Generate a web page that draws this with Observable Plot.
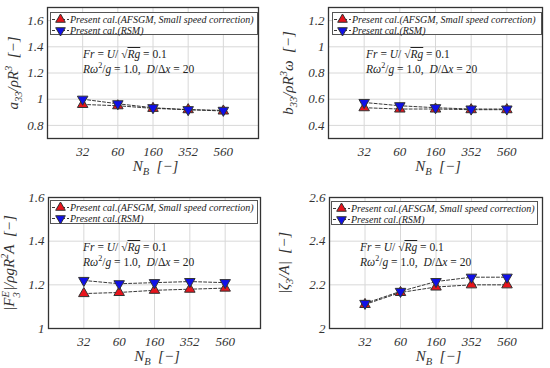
<!DOCTYPE html>
<html><head><meta charset="utf-8">
<script src="https://cdn.jsdelivr.net/npm/d3@7"></script>
<script src="https://cdn.jsdelivr.net/npm/@observablehq/plot@0.6"></script>
<style>
body{margin:0;background:#fff;}
#wrap{position:relative;width:550px;height:368px;overflow:hidden;font-family:"Liberation Serif","DejaVu Serif",serif;}
.pl{position:absolute;}
.leg{position:absolute;background:#fff;border:1.3px solid #555;box-sizing:border-box;font-style:italic;font-size:10px;color:#222;padding-top:1px;}
.leg .row{display:flex;align-items:center;height:11px;white-space:nowrap;}
.leg svg{margin:0 1px 0 1px;flex:none;}
.ann{position:absolute;font-size:11.5px;color:#222;white-space:nowrap;line-height:15px;}
.ann i{font-style:italic;}
.ov{text-decoration:overline;}
.ylab{position:absolute;font-size:15px;font-style:italic;color:#333;white-space:nowrap;transform:translate(-50%,-50%) rotate(-90deg);}
.xlab{position:absolute;font-size:15px;font-style:italic;color:#333;white-space:nowrap;transform:translate(-50%,-50%);}
sub,sup{font-size:70%;line-height:0;}
.stk{display:inline-flex;flex-direction:column;vertical-align:middle;font-size:70%;line-height:1;}
</style>
</head><body>
<div id="wrap"></div>
<script>
const NB = ["32", "60", "160", "352", "560"];
const idx = [1, 2, 3, 4, 5];

// panel (a): a33/rho R^3
const a33AFSGM = [0.96, 0.95, 0.93, 0.92, 0.91];
const a33RSM   = [1.00, 0.965, 0.935, 0.92, 0.915];
// panel (b): b33/rho R^3 omega
const b33AFSGM = [0.535, 0.525, 0.525, 0.52, 0.52];
const b33RSM   = [0.575, 0.55, 0.535, 0.525, 0.525];
// panel (c): |F3E|/rho g R^2 A
const f3AFSGM = [1.16, 1.165, 1.175, 1.18, 1.185];
const f3RSM   = [1.22, 1.205, 1.21, 1.215, 1.21];
// panel (d): |zeta3/A|
const z3AFSGM = [2.11, 2.165, 2.19, 2.20, 2.20];
const z3RSM   = [2.115, 2.17, 2.215, 2.235, 2.235];

const yTicksA = [0.8, 1, 1.2, 1.4, 1.6];
const yTicksB = [0.4, 0.6, 0.8, 1, 1.2];
const yTicksC = [1, 1.2, 1.4, 1.6];
const yTicksD = [2, 2.2, 2.4, 2.6];

const legendLabels = ["Present cal.(AFSGM, Small speed correction)", "Present cal.(RSM)"];
const RED = "#e8141c", BLUE = "#1010e8";

function triPath(size, down) {
  const y = -Math.sqrt(size / (3 * Math.sqrt(3)));
  const s = down ? -1 : 1;
  return `M0,${s*y*2}L${-Math.sqrt(3)*y},${-s*y}L${Math.sqrt(3)*y},${-s*y}Z`;
}
const triUp = {draw(ctx, size){const y=-Math.sqrt(size/(3*Math.sqrt(3)));ctx.moveTo(0,y*2);ctx.lineTo(-Math.sqrt(3)*y,-y);ctx.lineTo(Math.sqrt(3)*y,-y);ctx.closePath();}};
const triDown = {draw(ctx, size){const y=Math.sqrt(size/(3*Math.sqrt(3)));ctx.moveTo(0,y*2);ctx.lineTo(-Math.sqrt(3)*y,-y);ctx.lineTo(Math.sqrt(3)*y,-y);ctx.closePath();}};

const panels = [
  {left:0, top:0, m:[7,17,46,47], dom:[0.7,1.7], ticks:yTicksA, r:a33AFSGM, b:a33RSM,
   ylab:'a<sub>33</sub>/ρR<sup>3</sup>&nbsp;&nbsp;[−]', ylx:13, leg:[50,12,208,23], ann:[83,47]},
  {left:275, top:0, m:[7,8,46,53], dom:[0.3,1.3], ticks:yTicksB, r:b33AFSGM, b:b33RSM,
   ylab:'b<sub>33</sub>/ρR<sup>3</sup>ω&nbsp;&nbsp;[−]', ylx:288, leg:[332,12,210,23], ann:[366,47]},
  {left:0, top:184, m:[13,15,40,48], dom:[1,1.6], ticks:yTicksC, r:f3AFSGM, b:f3RSM,
   ylab:'|F<span class="stk"><span>E</span><span>3</span></span>|/ρgR<sup>2</sup>A&nbsp;&nbsp;[−]', ylx:11, leg:[50,200,208,24], ann:[83,240]},
  {left:275, top:184, m:[13,8,40,54], dom:[2,2.6], ticks:yTicksD, r:z3AFSGM, b:z3RSM,
   ylab:'|ζ<sub>3</sub>/A|&nbsp;&nbsp;[−]', ylx:284, leg:[331,201,207,24], ann:[360,240]}
];

const wrap = document.getElementById("wrap");

for (const p of panels) {
  const W = 275, H = 184;
  const dr = idx.map((i, k) => ({i, v: p.r[k]}));
  const db = idx.map((i, k) => ({i, v: p.b[k]}));
  const chart = Plot.plot({
    width: W, height: H,
    marginTop: p.m[0], marginRight: p.m[1], marginBottom: p.m[2], marginLeft: p.m[3],
    style: {fontFamily: "inherit", fontSize: "13px", fontStyle: "italic", color: "#333", background: "transparent"},
    x: {domain: [0, 6]},
    y: {domain: p.dom},
    marks: [
      Plot.gridX(idx, {stroke: "#d8d8d8", strokeOpacity: 1}),
      Plot.gridY(p.ticks, {stroke: "#d8d8d8", strokeOpacity: 1}),
      Plot.line(dr, {x: "i", y: "v", stroke: "#222", strokeWidth: 0.9, strokeDasharray: "3,2"}),
      Plot.line(db, {x: "i", y: "v", stroke: "#222", strokeWidth: 0.9, strokeDasharray: "3,2"}),
      Plot.dot(dr, {x: "i", y: "v", symbol: triUp, r: 3.9, fill: RED, stroke: "#333", strokeWidth: 1}),
      Plot.dot(db, {x: "i", y: "v", symbol: triDown, r: 3.9, fill: BLUE, stroke: "#333", strokeWidth: 1}),
      Plot.axisX({ticks: idx, tickFormat: i => NB[i - 1], tickSize: 0, tickPadding: 8, label: null}),
      Plot.axisY({ticks: p.ticks, tickFormat: d => String(d), tickSize: 0, tickPadding: 4, label: null}),
      Plot.frame({stroke: "#333", strokeWidth: 1.3})
    ]
  });
  chart.classList.add("pl");
  chart.style.left = p.left + "px";
  chart.style.top = p.top + "px";
  wrap.appendChild(chart);

  const fx0 = p.left + p.m[3], fx1 = p.left + W - p.m[1];
  const fy0 = p.top + p.m[0], fy1 = p.top + H - p.m[2];
  const yl = document.createElement("div");
  yl.className = "ylab"; yl.innerHTML = p.ylab;
  yl.style.left = p.ylx + "px"; yl.style.top = ((fy0 + fy1) / 2) + "px";
  wrap.appendChild(yl);
  const xl = document.createElement("div");
  xl.className = "xlab"; xl.innerHTML = 'N<sub>B</sub>&nbsp;&nbsp;[−]';
  xl.style.left = ((fx0 + fx1) / 2 + 3) + "px"; xl.style.top = (fy1 + 28) + "px";
  wrap.appendChild(xl);

  const lg = document.createElement("div");
  lg.className = "leg";
  Object.assign(lg.style, {left: p.leg[0] + "px", top: p.leg[1] + "px", width: p.leg[2] + "px", height: p.leg[3] + "px"});
  lg.innerHTML = legendLabels.map((t, k) =>
    `<div class="row"><svg width="17" height="11"><line x1="0" x2="17" y1="5.5" y2="5.5" stroke="#222" stroke-width="0.9" stroke-dasharray="3,2"/>` +
    `<path d="${triPath(40, k === 1)}" transform="translate(8.5,5.5)" fill="${k ? BLUE : RED}" stroke="#333" stroke-width="1"/></svg><span>${t}</span></div>`
  ).join("");
  wrap.appendChild(lg);

  const an = document.createElement("div");
  an.className = "ann";
  an.style.left = p.ann[0] + "px"; an.style.top = p.ann[1] + "px";
  an.innerHTML = '<div><i>Fr</i> = <i>U</i>/ √<span class="ov"><i>Rg</i></span> = 0.1</div>' +
                 '<div><i>Rω</i><sup>2</sup>/<i>g</i> = 1.0,&nbsp; <i>D</i>/Δ<i>x</i> = 20</div>';
  wrap.appendChild(an);
}
</script>
</body></html>
